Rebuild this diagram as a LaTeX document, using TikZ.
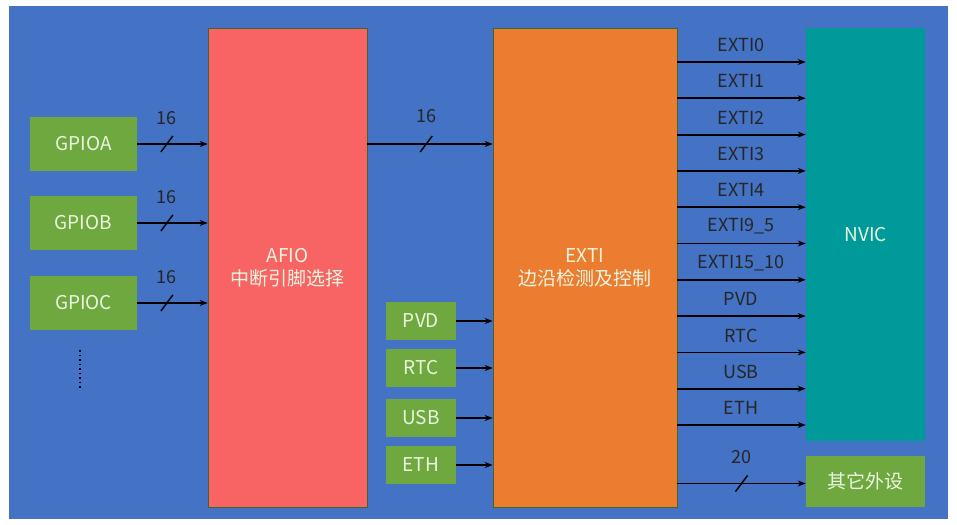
\documentclass[tikz,border=0pt]{standalone}
\usepackage{fontspec}
\setmainfont{Noto Sans CJK SC}
\usetikzlibrary{arrows.meta}
\definecolor{bg}{HTML}{4472C4}
\definecolor{afio}{HTML}{F86464}
\definecolor{exti}{HTML}{EC7D30}
\definecolor{nvic}{HTML}{009A9A}
\definecolor{gr}{HTML}{6FA83E}
\definecolor{txt}{HTML}{EAF5E0}
\begin{document}
\begin{tikzpicture}[x=1pt,y=-1pt,
 blk/.style={draw=gr!60!black,line width=0.6pt,inner sep=0,text=txt,font=\fontsize{19}{23}\selectfont,align=center},
 arr/.style={line width=1.8pt,-{Stealth[length=8pt,width=6pt]}},
 lbl/.style={font=\fontsize{18}{20}\selectfont,text=black!85}]
\fill[white] (0,0) rectangle (957,524);
\fill[bg] (9,6) rectangle (948,519);
\path[use as bounding box] (0,0) rectangle (957,524);
\node[blk,fill=afio,minimum width=159,minimum height=479] (afio) at (287.5,267.5) {AFIO\\中断引脚选择};
\node[blk,fill=exti,minimum width=184,minimum height=479] (exti) at (585,267.5) {EXTI\\边沿检测及控制};
\node[blk,fill=nvic,draw=none,minimum width=119,minimum height=413] (nvic) at (865.5,234.5) {NVIC};
\node[blk,fill=gr,draw=none,minimum width=119,minimum height=51] (oth) at (865.5,481.5) {其它外设};
\foreach \n/\y in {A/144,B/223,C/303}{
 \node[blk,fill=gr,draw=none,minimum width=107,minimum height=54] (g\n) at (83.5,\y) {GPIO\n};
 \draw[arr] (g\n.east) -- (afio.west |- g\n.east) coordinate[pos=0.42] (s\n);
 \draw[line width=1.4pt] ([shift={(-6,8)}]s\n) -- ([shift={(6,-8)}]s\n);
 \node[lbl] at ([yshift=26]s\n) {16};
}
\draw[line width=1.5pt,dash pattern=on 1.5pt off 3pt] (80,350) -- (80,390);
\draw[arr] (afio.east |- gA.east) -- (exti.west |- gA.east) coordinate[pos=0.47] (sm);
\draw[line width=1.4pt] ([shift={(-6,8)}]sm) -- ([shift={(6,-8)}]sm);
\node[lbl] at ([yshift=28]sm) {16};
\foreach \t/\y in {PVD/321,RTC/368,USB/418,ETH/465}{
 \node[blk,fill=gr,draw=none,minimum width=70,minimum height=38] (p\t) at (421,\y) {\t};
 \draw[arr] (p\t.east) -- (exti.west |- p\t.east);
}
\foreach \t [count=\i from 0] in {EXTI0,EXTI1,EXTI2,EXTI3,EXTI4,EXTI9\_5,EXTI15\_10,PVD,RTC,USB,ETH}{
 \pgfmathsetmacro\yy{62+36.3*\i}
 \coordinate (a\i) at (677,\yy);
 \draw[arr] (a\i) -- (nvic.west |- a\i);
 \node[lbl] at (741,\yy-17) {\t};
}
\draw[arr] (exti.east |- oth.west) ++(0,2) coordinate (b0) -- (oth.west |- b0) coordinate[pos=0.5] (sb);
\draw[line width=1.4pt] ([shift={(-6,8)}]sb) -- ([shift={(6,-8)}]sb);
\node[lbl] at ([yshift=26]sb) {20};
\end{tikzpicture}
\end{document}
